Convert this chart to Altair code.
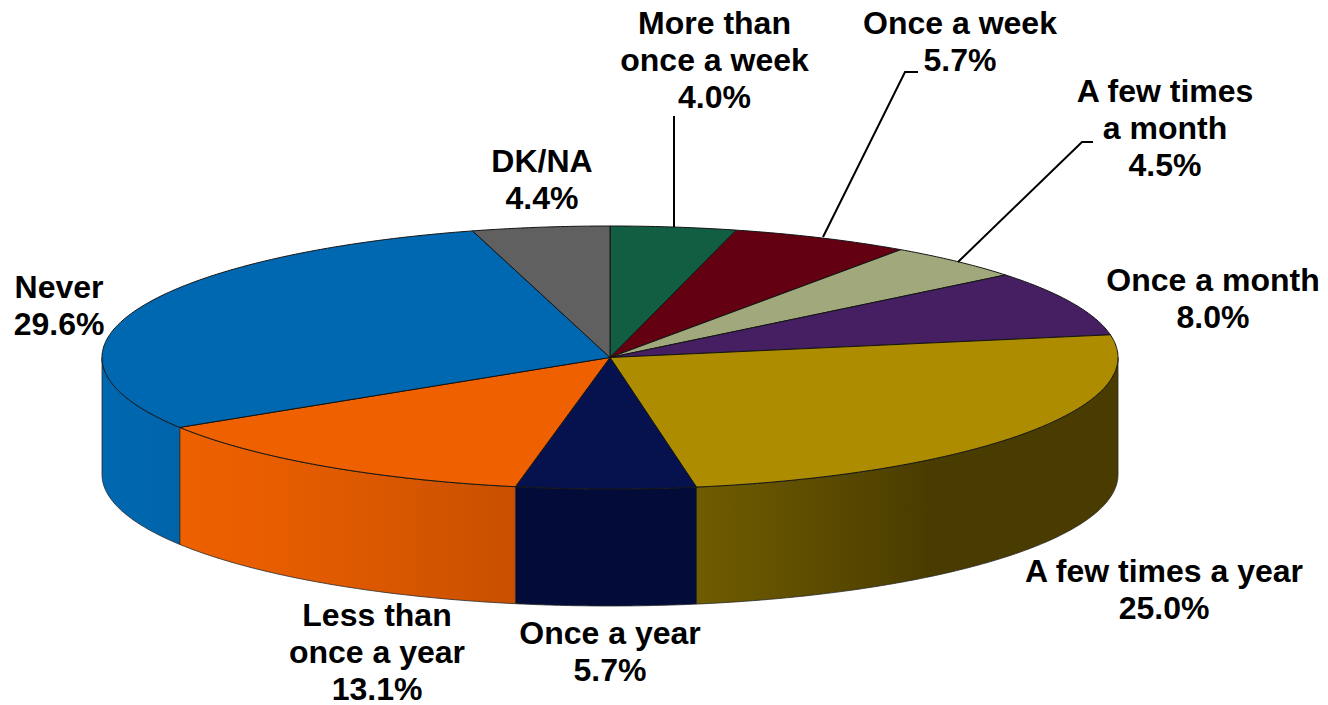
import math
import altair as alt
import pandas as pd

# ---- chart values (clockwise from 12 o'clock) ----
categories = ["More than once a week", "Once a week", "A few times a month", "Once a month",
              "A few times a year", "Once a year", "Less than once a year", "Never", "DK/NA"]
shares = [4.0, 5.7, 4.5, 8.04, 25.04, 5.7, 13.1, 29.56, 4.36]
label_lines = [["More than", "once a week"], ["Once a week"], ["A few times", "a month"], ["Once a month"],
               ["A few times a year"], ["Once a year"], ["Less than", "once a year"], ["Never"], ["DK/NA"]]
top_colors = ["#115E43", "#630011", "#A0A87C", "#451F62", "#AD8C00", "#06124E", "#EE6000", "#0068B0", "#606060"]

# ---- layout, in reference pixels ----
CX, CY, RX, RY, DEPTH = 610.0, 355.5, 508.0, 131.5, 117.0
label_pos = [(714.5, 22.3), (960, 22.3), (1165, 90.3), (1213, 279.3), (1164, 570.3), (610, 632.3), (377, 614.3), (59, 286.3), (542, 160.3)]
leaders = [[(674, 114), (674, 225)],
           [(823, 235), (905, 70), (918, 70)],
           [(958, 260), (1082, 140), (1093, 140)]]
side_stops = {
    4: [(0, "#705D00"), (0.55, "#4A3C00"), (1, "#4A3C00")],
    5: [(0, "#030C38"), (1, "#030C38")],
    6: [(0, "#EE6000"), (0.35, "#E55C00"), (1, "#C85000")],
    7: [(0, "#0068B0"), (1, "#0064AA")],
}

X = alt.X("x:Q", axis=None, scale=alt.Scale(domain=[8, 1320], nice=False, zero=False))
Y = alt.Y("y:Q", axis=None, scale=alt.Scale(domain=[697, 8], nice=False, zero=False))


def rim(t, drop=0.0):
    r = math.radians(t)
    return CX + RX * math.sin(r), CY - RY * math.cos(r) + drop


def arc_pts(t0, t1, drop=0.0):
    n = max(2, int(abs(t1 - t0) * 2))
    return [rim(t0 + (t1 - t0) * i / n, drop) for i in range(n + 1)]


def poly(pts, **mark):
    df = pd.DataFrame(pts, columns=["x", "y"])
    df["i"] = range(len(df))
    return alt.Chart(df).mark_line(interpolate="linear", clip=False, **mark).encode(
        x=X, y=Y, order="i:Q")


# angular bounds of each slice
bounds = []
acc = 0.0
for s in shares:
    bounds.append((acc * 3.6, (acc + s) * 3.6))
    acc += s

layers = []

# side walls: only the visible half of the rim (90 to 270 degrees)
for idx, stops in side_stops.items():
    t0, t1 = max(bounds[idx][0], 90), min(bounds[idx][1], 270)
    pts = arc_pts(t0, t1) + arc_pts(t1, t0, DEPTH)
    pts.append(pts[0])
    grad = alt.LinearGradient(gradient="linear", x1=0, x2=1, y1=0, y2=0,
                              stops=[alt.GradientStop(offset=o, color=c) for o, c in stops])
    layers.append(poly(pts, fill=grad, stroke="#2A2A2A", strokeWidth=0.8))

# top wedges
for (t0, t1), col in zip(bounds, top_colors):
    pts = [(CX, CY)] + arc_pts(t0, t1) + [(CX, CY)]
    layers.append(poly(pts, fill=col, stroke="#141414", strokeWidth=1))

# leader lines
for seg in leaders:
    layers.append(poly(seg, stroke="#000000", strokeWidth=2))

# labels
rows = []
for lines, s, (lx, ly) in zip(label_lines, shares, label_pos):
    rows.append({"x": lx, "y": ly, "t": "\n".join(lines + [f"{s:.1f}%"])})
layers.append(
    alt.Chart(pd.DataFrame(rows)).mark_text(
        font="Liberation Sans", fontWeight="bold", fontSize=32, color="#000000",
        lineBreak="\n", lineHeight=37, align="center", baseline="middle"
    ).encode(x=X, y=Y, text="t:N")
)

chart = alt.layer(*layers).properties(
    width=1312, height=689, padding=0, background="#FFFFFF"
).configure_view(stroke=None)

chart.save("out.html", embed_options={"renderer": "svg", "actions": False})
